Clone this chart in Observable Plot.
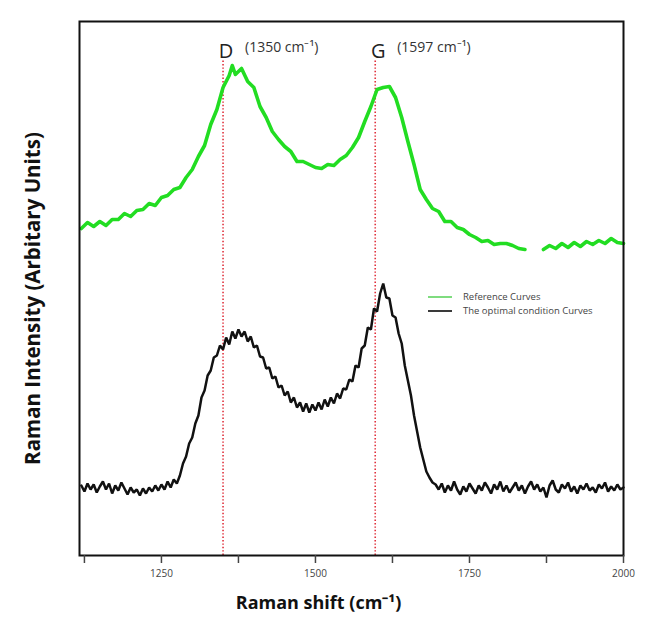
<!DOCTYPE html>
<html>
<head>
<meta charset="utf-8">
<script src="https://cdn.jsdelivr.net/npm/d3@7"></script>
<script src="https://cdn.jsdelivr.net/npm/@observablehq/plot@0.6"></script>
<style>
  html, body { margin: 0; padding: 0; background: #fff; }
  #chart { position: relative; width: 651px; height: 642px; font-family: "Open Sans", sans-serif; }
  #legend { position: absolute; left: 428px; top: 290px; font-size: 9.5px; color: #444; line-height: 14px; }
  #legend .row { display: flex; align-items: center; height: 14px; }
  #legend .swatch { width: 24px; height: 2px; margin-right: 11px; }
</style>
</head>
<body>
<div id="chart"></div>
<script>
// Raman spectra: reference sample (green) and sample at the optimal condition (black)

// Reference curve: Raman shift (cm⁻¹) and intensity (arbitrary units); null = no data
const refShift = [1120,1130,1140,1150,1160,1170,1180,1190,1200,1210,1220,1230,1240,1250,1260,1270,1280,1290,1300,1310,1320,1330,1340,1350,1360,1365,1370,1380,1390,1400,1410,1420,1430,1440,1450,1460,1470,1480,1490,1500,1510,1520,1530,1540,1550,1560,1570,1580,1590,1600,1610,1620,1630,1640,1650,1660,1670,1680,1690,1700,1710,1720,1730,1740,1750,1760,1770,1780,1790,1800,1810,1820,1830,1840,1850,1860,1870,1880,1890,1900,1910,1920,1930,1940,1950,1960,1970,1980,1990,2000];
const refIntensity = [327,333,329,334,330,336,336,342,339,345,346,352,350,358,360,366,368,378,386,399,410,431,446,468,480,490,481,487,474,468,449,438,424,416,409,404,394,394,391,388,387,391,390,396,400,408,418,434,449,466,468,469,458,438,414,391,366,356,347,344,334,334,328,326,321,318,314,315,311,312,312,310,307,306,null,null,306,310,307,312,308,313,309,314,311,315,312,317,313,312];

// Optimal-condition curve: sampled every 5 cm⁻¹ from 1120 to 2000
const optStart = 1120, optStep = 5;
const optIntensity = [
  70,64,72,66,71,63,69,74,66,72,62,70,65,73,67,61,68,63,66,60,67,62,68,64,70,65,71,66,74,68,76,72,
  80,92,99,112,118,132,140,158,165,180,185,198,200,210,206,218,211,224,217,226,
  219,224,214,219,208,210,199,198,187,188,177,179,168,170,160,164,153,158,148,153,
  144,152,143,151,145,153,146,156,149,158,152,162,157,167,
  166,176,174,190,188,207,210,228,226,247,244,262,272,258,257,240,238,222,212,190,
  175,160,140,124,108,96,84,78,73,71,
  66,72,63,70,65,74,66,61,69,64,72,67,62,70,65,73,68,62,71,66,74,64,70,63,68,73,65,70,62,69,
  74,66,71,64,68,58,70,75,66,63,71,67,73,64,69,62,70,66,72,65,68,63,71,67,73,64,69,65,71,66,68
];
const optShift = optIntensity.map((_, i) => optStart + i * optStep);

// Characteristic bands
const bandNames = ["D", "G"];
const bandShifts = [1350, 1597];

// Axis ticks
const xTicks = [1125, 1250, 1375, 1500, 1625, 1750, 1875, 2000];
const xTickLabels = [1250, 1500, 1750, 2000];

const legendItems = [
  { label: "Reference Curves", color: "#7fdc7f" },
  { label: "The optimal condition Curves", color: "#3a3a3a" }
];

const refData = refShift.map((s, i) => ({ shift: s, intensity: refIntensity[i] }));
const optData = optShift.map((s, i) => ({ shift: s, intensity: optIntensity[i] }));
const bands = bandNames.map((n, i) => ({ name: n, shift: bandShifts[i] }));

const chart = Plot.plot({
  width: 651,
  height: 642,
  marginLeft: 79,
  marginTop: 21,
  marginRight: 28,
  marginBottom: 87,
  style: { fontFamily: "Open Sans, sans-serif", background: "#fff" },
  x: { domain: [1117, 2000] },
  y: { domain: [0, 534], axis: null },
  marks: [
    Plot.ruleX(bands, { x: "shift", y1: 0, y2: 496, stroke: "#e0303c", strokeWidth: 1.6, strokeDasharray: "1.4,2" }),
    Plot.line(refData, { x: "shift", y: "intensity", stroke: "#22dd22", strokeWidth: 3.6, strokeLinejoin: "round", strokeLinecap: "round" }),
    Plot.line(optData, { x: "shift", y: "intensity", stroke: "#111", strokeWidth: 2.5, strokeLinejoin: "miter" }),
    Plot.text(bands, { x: "shift", text: "name", frameAnchor: "top", dx: 3, dy: 22, fontSize: 20, fill: "#222" }),
    Plot.text(bands, { x: "shift", text: d => `(${d.shift} cm⁻¹)`, frameAnchor: "top", dx: 22, dy: 21, textAnchor: "start", fontSize: 14, fill: "#333" }),
    Plot.frame({ stroke: "#111", strokeWidth: 2 }),
    Plot.axisX({ ticks: xTicks, tickSize: 8, tickPadding: 6, fontSize: 10, color: "#444", strokeWidth: 1.5,
      tickFormat: d => xTickLabels.includes(d) ? String(d) : "", label: null }),
    Plot.text(["Raman shift (cm⁻¹)"], { frameAnchor: "bottom", dx: -33, dy: 53, fontSize: 18, fontWeight: 700, fill: "#111" }),
    Plot.text(["Raman Intensity (Arbitary Units)"], { frameAnchor: "left", textAnchor: "middle", rotate: -90, dx: -46, dy: 10, fontSize: 20.5, fontWeight: 700, fill: "#111" })
  ]
});

const root = document.getElementById("chart");
root.appendChild(chart);

// Legend drawn over the plot area
const legend = document.createElement("div");
legend.id = "legend";
for (const item of legendItems) {
  const row = document.createElement("div");
  row.className = "row";
  const sw = document.createElement("span");
  sw.className = "swatch";
  sw.style.background = item.color;
  const tx = document.createElement("span");
  tx.textContent = item.label;
  row.appendChild(sw);
  row.appendChild(tx);
  legend.appendChild(row);
}
root.appendChild(legend);
</script>
</body>
</html>
